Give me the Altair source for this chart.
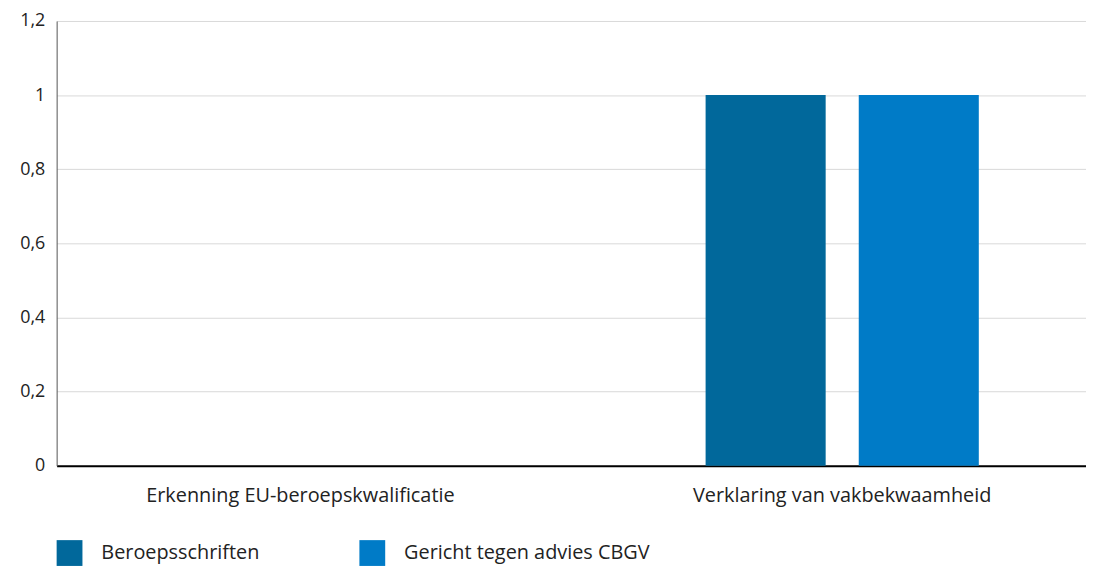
import altair as alt
import pandas as pd

categories = ["Erkenning EU-beroepskwalificatie", "Verklaring van vakbekwaamheid"]
series = ["Beroepsschriften", "Gericht tegen advies CBGV"]
beroepsschriften = [0, 1]
gericht_tegen_advies = [0, 1]
colors = ["#01689B", "#007BC7"]
y_ticks = [0, 0.2, 0.4, 0.6, 0.8, 1.0, 1.2]

rows = []
for i, c in enumerate(categories):
    rows.append({"categorie": c, "reeks": series[0], "waarde": beroepsschriften[i]})
    rows.append({"categorie": c, "reeks": series[1], "waarde": gericht_tegen_advies[i]})
df = pd.DataFrame(rows)

FONT = "Open Sans"

chart = alt.Chart(df).mark_bar().encode(
    x=alt.X(
        "categorie:N", sort=categories, title=None,
        scale=alt.Scale(paddingInner=0.1, paddingOuter=0),
        axis=alt.Axis(labelAngle=0, ticks=False, labelPadding=20, labelFontSize=20,
                      labelColor="#222222", domainColor="#000000", domainWidth=2,
                      grid=False, labelFont=FONT, labelLimit=0),
    ),
    xOffset=alt.XOffset(
        "reeks:N", sort=series,
        scale=alt.Scale(paddingInner=0.216, paddingOuter=0.70),
    ),
    y=alt.Y(
        "waarde:Q", title=None, scale=alt.Scale(domain=[0, 1.2]),
        axis=alt.Axis(values=y_ticks,
                      labelExpr="replace(format(datum.value, '~g'), '.', ',')",
                      ticks=False, labelPadding=12, labelFontSize=18,
                      labelColor="#222222", labelFont=FONT,
                      domainColor="#555555", domainWidth=1,
                      gridColor="#d9d9d9", gridWidth=1,
                      minExtent=49, maxExtent=49),
    ),
    color=alt.Color(
        "reeks:N", sort=series,
        scale=alt.Scale(domain=series, range=colors),
        legend=alt.Legend(title=None, orient="none", legendX=0, legendY=523,
                          direction="horizontal", symbolType="square",
                          symbolSize=676, symbolStrokeWidth=0,
                          labelFontSize=20, labelFont=FONT, labelColor="#222222",
                          labelOffset=19, columnPadding=100, labelLimit=0),
    ),
).properties(
    width=1037, height=448,
    padding={"left": 0, "top": 2, "right": 0, "bottom": 0},
).configure_view(stroke=None)

chart.save("out.html", embed_options={"renderer": "svg", "actions": False})
